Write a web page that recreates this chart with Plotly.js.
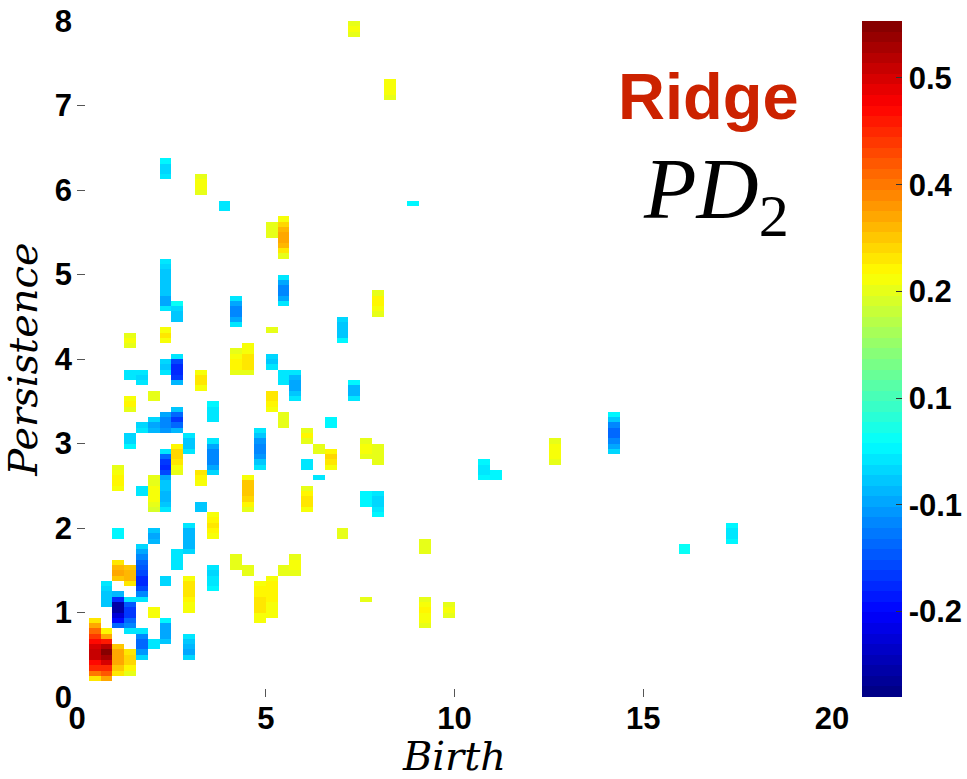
<!DOCTYPE html>
<html>
<head>
<meta charset="utf-8">
<script src="https://cdn.plot.ly/plotly-3.0.1.min.js"></script>
<style>
  html, body { margin: 0; padding: 0; background: #fff; }
  #chart { width: 967px; height: 779px; }
</style>
</head>
<body>
<div id="chart"></div>
<script>
// Persistence image grid: 64 birth bins over [0, 20], 128 persistence bins over [0, 8]
const birthMax = 20;
const persistenceMax = 8;
const nBirthBins = 64;
const nPersistenceBins = 128;

// Non-empty pixels, stored as vertical runs:
// birth-bin column, persistence-bin row of the top pixel, and the values from the top down.
const runCol = [
  1, 2, 3, 4,
  2, 3, 4, 5, 5, 3, 4,
  6, 6, 6, 6,
  7, 7, 7,
  8, 9, 9, 9,
  10, 10, 11, 11,
  13, 14, 14, 15, 16, 17, 18, 19, 20,
  3, 5, 3,
  7, 8, 13, 17, 16, 4, 7, 13, 14,
  7, 8, 4, 5, 10, 16, 17, 18,
  4, 6, 11, 7, 8, 6, 5, 4, 9, 11, 15,
  16, 17, 19, 20, 21, 19, 21, 8,
  7, 10, 12, 16, 17,
  23, 26, 28,
  25, 22, 23, 24, 25, 40,
  24, 25, 22, 29, 24, 29, 31, 34, 35,
  45, 55, 51
];
const runTop = [
  14, 12, 9, 8,
  21, 19, 18, 12, 28, 25, 24,
  41, 31, 16, 10,
  46, 22, 14,
  27, 22, 11, 32,
  42, 36, 34, 24,
  26, 41, 24, 21, 22, 24, 26, 39, 41,
  43, 39, 31,
  82, 74, 75, 79, 69, 68, 69, 65, 66,
  63, 64, 61, 61, 61, 64, 61, 61,
  56, 57, 55, 53, 54, 52, 51, 49, 49, 48, 50,
  57, 53, 50, 47, 46, 44, 52, 47,
  101, 98, 93, 89, 90,
  127, 116, 93,
  76, 71, 59, 48, 47, 48,
  38, 38, 31, 29, 18, 18, 17, 44, 42,
  53, 32, 28
];
const runVals = [
  [0.25, 0.30, 0.36, 0.41, 0.46, 0.50, 0.52, 0.51, 0.46, 0.42, 0.35, 0.25],
  [0.23, 0.30, 0.44, 0.53, 0.57, 0.55, 0.50, 0.43, 0.38, 0.31],
  [0.27, 0.30, 0.31, 0.30, 0.27, 0.24],
  [0.25, 0.26, 0.26, 0.23, 0.20],

  [-0.03, -0.05, -0.06, -0.06, -0.06],
  [-0.08, -0.22, -0.33, -0.34, -0.29, -0.24, -0.16],
  [-0.03, -0.17, -0.20, -0.20, -0.16, -0.12, -0.03],
  [-0.04, -0.13, -0.16, -0.16, -0.11, -0.05],
  [-0.05, -0.09, -0.13, -0.15, -0.17, -0.19, -0.21, -0.22, -0.19, -0.12, -0.04],
  [0.25, 0.29, 0.30, 0.27],
  [0.28, 0.29, 0.29, 0.24],

  [0.20, 0.20, 0.21, 0.21, 0.21, 0.20, 0.19],
  [-0.06, -0.09, -0.08],
  [0.21, 0.22],
  [-0.03, -0.03],

  [-0.03, -0.15, -0.20, -0.22, -0.18, -0.10, -0.07, -0.07, -0.08, -0.08, -0.07, -0.04],
  [-0.05, -0.05],
  [-0.02, -0.09, -0.10, -0.10, -0.07],

  [-0.03, -0.04, -0.04, -0.03],
  [0.22, 0.25, 0.25, 0.24, 0.23, 0.21, 0.21],
  [-0.03, -0.07, -0.08, -0.09, -0.05],
  [-0.04, -0.08, -0.08, -0.08, -0.08, -0.05],

  [0.25, 0.23, 0.21],
  [-0.06, -0.06],
  [0.21, 0.23, 0.24, 0.23, 0.21],
  [-0.03, -0.05, -0.04, -0.03, -0.02],

  [0.20, 0.20, 0.20],
  [0.22, 0.28, 0.28, 0.28, 0.26, 0.23, 0.20],
  [0.20, 0.20],
  [0.22, 0.23, 0.23, 0.24, 0.25, 0.24, 0.22, 0.21],
  [0.21, 0.23, 0.23, 0.23, 0.23, 0.22, 0.22, 0.21],
  [0.20, 0.20],
  [0.20, 0.21, 0.21, 0.20],
  [0.20, 0.23, 0.25, 0.24, 0.21],
  [-0.03],

  [0.20, 0.22, 0.23, 0.23, 0.21],
  [-0.03, -0.03],
  [-0.02, -0.02],

  [-0.03, -0.05, -0.06, -0.06, -0.06, -0.06, -0.07, -0.09, -0.09, -0.04],
  [-0.01, -0.05, -0.06, -0.07],
  [-0.03, -0.10, -0.12, -0.12, -0.10, -0.04],
  [-0.03, -0.10, -0.12, -0.12, -0.09, -0.04],
  [0.20],
  [0.20, 0.22, 0.20],
  [0.21, 0.24, 0.21],
  [0.20, 0.22, 0.23, 0.23, 0.20],
  [0.21, 0.22, 0.24, 0.25, 0.24, 0.20],

  [-0.05, -0.06, -0.03],
  [-0.03, -0.18, -0.22, -0.22, -0.20, -0.08],
  [-0.03, -0.03],
  [-0.04, -0.05, -0.04],
  [0.21, 0.25, 0.25, 0.21],
  [-0.05, -0.06, -0.04],
  [-0.03, -0.04, -0.03],
  [-0.03, -0.08, -0.10, -0.10, -0.07, -0.04],

  [0.21, 0.23, 0.20],
  [0.20, 0.20],
  [-0.02, -0.03, -0.03, -0.03],
  [-0.10, -0.13, -0.13, -0.11],
  [-0.07, -0.16, -0.20, -0.16, -0.08],
  [-0.05, -0.09, -0.08],
  [-0.05, -0.03],
  [-0.05, -0.05, -0.02],
  [-0.03, -0.06, -0.06, -0.03],
  [-0.03, -0.10, -0.12, -0.13, -0.13, -0.10, -0.05],
  [-0.03, -0.06, -0.11, -0.12, -0.12, -0.11, -0.07, -0.03],

  [0.25, 0.25, 0.23, 0.21],
  [0.20, 0.20, 0.20],
  [0.20, 0.23, 0.20],
  [0.20, 0.20],
  [0.23, 0.26, 0.25, 0.22],
  [-0.03, -0.03],
  [-0.02, -0.02],
  [0.23, 0.26, 0.26, 0.24, 0.22, 0.20],

  [-0.02, -0.05, -0.05, -0.03],
  [0.20, 0.22, 0.22, 0.20],
  [-0.03, -0.03],
  [0.20, 0.20, 0.20],
  [0.22, 0.26, 0.29, 0.30, 0.30, 0.29, 0.24, 0.20],

  [0.20, 0.21, 0.20],
  [0.22, 0.22, 0.21, 0.20],
  [-0.02],

  [0.20, 0.23, 0.23, 0.22, 0.20],
  [-0.05, -0.06, -0.06, -0.06, -0.02],
  [-0.02, -0.08, -0.08, -0.04],
  [0.20, 0.21, 0.21, 0.20],
  [0.20, 0.20, 0.20, 0.20],
  [0.20, 0.21, 0.21, 0.21, 0.20],

  [-0.02, -0.02, -0.02],
  [-0.03, -0.05, -0.05, -0.04, -0.02],
  [0.20, 0.20],
  [0.20, 0.20, 0.20],
  [0.20],
  [0.20, 0.22, 0.23, 0.22, 0.21, 0.20],
  [0.20, 0.21, 0.20],
  [-0.02, -0.03, -0.03, -0.02],
  [-0.02, -0.02],

  [-0.02, -0.06, -0.12, -0.15, -0.15, -0.13, -0.10, -0.05],
  [-0.02, -0.03, -0.03, -0.02],
  [-0.01, -0.01]
];

// Colour bar ticks (labels rounded to one decimal)
const cbTickVals = [0.5, 0.35, 0.2, 0.05, -0.1, -0.25];
const cbTickText = ['0.5', '0.4', '0.2', '0.1', '-0.1', '-0.2'];
const zMin = -0.37, zMax = 0.58;

const xTicks = [0, 5, 10, 15, 20];
const yTicks = [0, 1, 2, 3, 4, 5, 6, 7, 8];

// Assemble the image matrix (null = empty pixel)
const z = [];
for (let r = 0; r < nPersistenceBins; r++) z.push(new Array(nBirthBins).fill(null));
runCol.forEach((c, i) => {
  runVals[i].forEach((v, k) => { z[runTop[i] - k][c] = v; });
});

// 64-level jet colour map, drawn as discrete bands
function jet(t) {
  const cl = v => Math.max(0, Math.min(1, v));
  const r = cl(1.5 - Math.abs(4 * t - 3));
  const g = cl(1.5 - Math.abs(4 * t - 2));
  const b = cl(1.5 - Math.abs(4 * t - 1));
  return 'rgb(' + Math.round(r * 255) + ',' + Math.round(g * 255) + ',' + Math.round(b * 255) + ')';
}
const nLevels = 64;
const jetScale = [];
for (let i = 0; i < nLevels; i++) {
  const col = jet((i + 0.5) / nLevels);
  jetScale.push([i / nLevels, col]);
  jetScale.push([(i + 1) / nLevels, col]);
}

const dx = birthMax / nBirthBins;
const dy = persistenceMax / nPersistenceBins;

const trace = {
  type: 'heatmap',
  z: z,
  x0: dx / 2, dx: dx,
  y0: dy / 2, dy: dy,
  zmin: zMin, zmax: zMax,
  colorscale: jetScale,
  zsmooth: false,
  hoverongaps: false,
  colorbar: {
    thickness: 40,
    thicknessmode: 'pixels',
    len: 676,
    lenmode: 'pixels',
    x: 1.0397,
    xanchor: 'left',
    xpad: 0,
    y: 0.5,
    yanchor: 'middle',
    ypad: 0,
    outlinewidth: 0,
    tickvals: cbTickVals,
    ticktext: cbTickText,
    ticks: 'inside',
    ticklen: 6,
    tickcolor: '#333',
    tickfont: { family: 'Liberation Sans, Arial, sans-serif', size: 31, color: '#000', weight: 'bold' }
  }
};

const tickFont = { family: 'Liberation Sans, Arial, sans-serif', size: 31, color: '#000', weight: 'bold' };
const mathFont = { family: 'DejaVu Serif, serif', size: 40, color: '#000', style: 'italic' };

const layout = {
  width: 967,
  height: 779,
  margin: { l: 77, r: 135, t: 21, b: 82, pad: 0, autoexpand: false },
  paper_bgcolor: '#fff',
  plot_bgcolor: '#fff',
  showlegend: false,
  xaxis: {
    range: [0, birthMax],
    tickvals: xTicks,
    ticks: 'inside',
    ticklen: 8,
    tickcolor: '#555',
    tickwidth: 1,
    showline: false,
    showgrid: false,
    zeroline: false,
    automargin: false,
    tickfont: tickFont,
    title: { text: 'Birth', font: mathFont, standoff: 4 }
  },
  yaxis: {
    range: [0, persistenceMax],
    tickvals: yTicks,
    ticks: 'inside',
    ticklen: 8,
    tickcolor: '#555',
    tickwidth: 1,
    showline: false,
    showgrid: false,
    zeroline: false,
    automargin: false,
    tickfont: tickFont,
    ticklabelstandoff: 4,
    title: { text: 'Persistence', font: mathFont, standoff: 4 }
  },
  annotations: [
    {
      xref: 'paper', yref: 'paper',
      x: 0.836, y: 0.8876, xanchor: 'center', yanchor: 'middle',
      text: 'Ridge', showarrow: false,
      font: { family: 'Liberation Sans, Arial, sans-serif', size: 65, color: '#cc2200', weight: 'bold' }
    },
    {
      xref: 'paper', yref: 'paper',
      x: 0.846, y: 0.7426, xanchor: 'center', yanchor: 'middle',
      text: '<i>PD</i><sub>2</sub>', showarrow: false,
      font: { family: 'Liberation Serif, serif', size: 86, color: '#000' }
    }
  ]
};

Plotly.newPlot('chart', [trace], layout, { displayModeBar: false, staticPlot: true });
</script>
</body>
</html>
